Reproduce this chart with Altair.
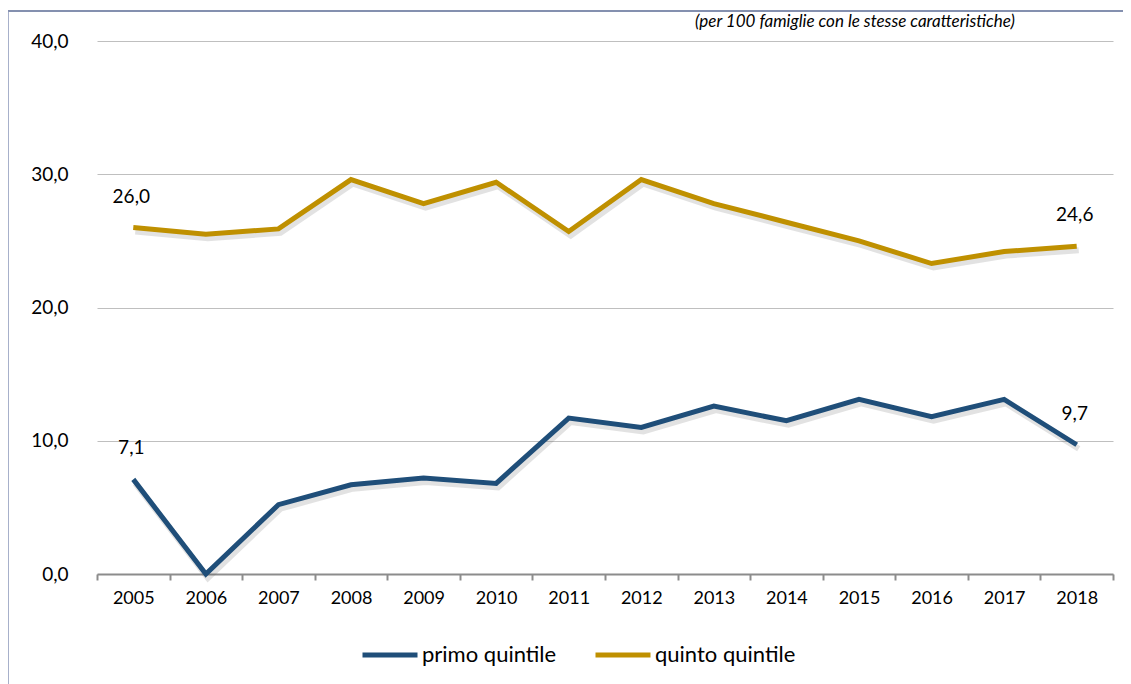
import altair as alt
import pandas as pd

years = list(range(2005, 2019))
primo = [7.1, 0.0, 5.2, 6.7, 7.2, 6.8, 11.7, 11.0, 12.6, 11.5, 13.1, 11.8, 13.1, 9.7]
quinto = [26.0, 25.5, 25.9, 29.6, 27.8, 29.4, 25.7, 29.6, 27.8, 26.4, 25.0, 23.3, 24.2, 24.6]
series_names = ["primo quintile", "quinto quintile"]
series_colors = ["#1f4e79", "#bf9000"]
note = "(per 100 famiglie con le stesse caratteristiche)"

rows = []
for y, a, b in zip(years, primo, quinto):
    rows.append({"anno": str(y), "serie": series_names[0], "valore": a})
    rows.append({"anno": str(y), "serie": series_names[1], "valore": b})
df = pd.DataFrame(rows)

FONT = "Lato"

x_enc = alt.X(
    "anno:O",
    title=None,
    scale=alt.Scale(type="band", paddingInner=0, paddingOuter=0),
    axis=alt.Axis(
        labelAngle=0, labelFontSize=18, labelFont=FONT, labelColor="#000000",
        domainColor="#8c8c8c", domainWidth=2, tickColor="#8c8c8c", tickWidth=2,
        tickSize=6, tickBand="extent", labelPadding=9, grid=False,
    ),
)
y_enc = alt.Y(
    "valore:Q",
    title=None,
    scale=alt.Scale(domain=[0, 40], nice=False, zero=True),
    axis=alt.Axis(
        values=[0, 10, 20, 30, 40], labelExpr="replace(format(datum.value, '.1f'), '.', ',')",
        labelFontSize=19, labelFont=FONT, labelColor="#000000", labelPadding=29,
        ticks=False, domain=False, grid=True, gridColor="#bfbfbf", gridWidth=1,
    ),
)
color_enc = alt.Color(
    "serie:N",
    scale=alt.Scale(domain=series_names, range=series_colors),
    legend=alt.Legend(
        title=None, orient="none", legendX=263, legendY=584, direction="horizontal",
        symbolType="stroke", symbolSize=3025, symbolStrokeWidth=5,
        labelFontSize=22, labelFont=FONT, labelColor="#000000", labelOffset=2,
        columnPadding=28,
    ),
)

base = alt.Chart(df)

shadow = base.mark_line(strokeWidth=6, xOffset=2, yOffset=4, opacity=0.18, color="#606060").encode(
    x=x_enc, y=y_enc, detail="serie:N"
)
lines = base.mark_line(strokeWidth=5, strokeJoin="miter").encode(x=x_enc, y=y_enc, color=color_enc)

labels = base.transform_filter(
    "datum.anno == '2005' || datum.anno == '2018'"
).transform_calculate(
    lab="replace(format(datum.valore, '.1f'), '.', ',')"
).mark_text(fontSize=19, font=FONT, color="#000000", dy=-31, dx=-2, baseline="middle").encode(
    x=x_enc, y=y_enc, text="lab:N"
)

frame_top = alt.Chart(pd.DataFrame({"k": [0]})).mark_rule(color="#5b6b95", strokeWidth=1.5).encode(
    x=alt.value(-89), x2=alt.value(1030), y=alt.value(-30)
)
frame_left = alt.Chart(pd.DataFrame({"k": [0]})).mark_rule(color="#8a96b8", strokeWidth=1.5).encode(
    x=alt.value(-89), y=alt.value(-30), y2=alt.value(650)
)
note_text = alt.Chart(pd.DataFrame({"t": [note]})).mark_text(
    fontSize=17, font=FONT, fontStyle="italic", color="#000000", align="left", baseline="top"
).encode(x=alt.value(598), y=alt.value(-27), text="t:N")

chart = alt.layer(shadow, lines, labels, frame_top, frame_left, note_text).properties(
    width=1016, height=533,
    background="#ffffff",
    autosize=alt.AutoSizeParams(type="none"),
    padding={"left": 89, "top": 33, "right": 10, "bottom": 110},
).configure_view(stroke="transparent", strokeWidth=0)

chart.save("out.html", embed_options={"renderer": "svg", "actions": False})
